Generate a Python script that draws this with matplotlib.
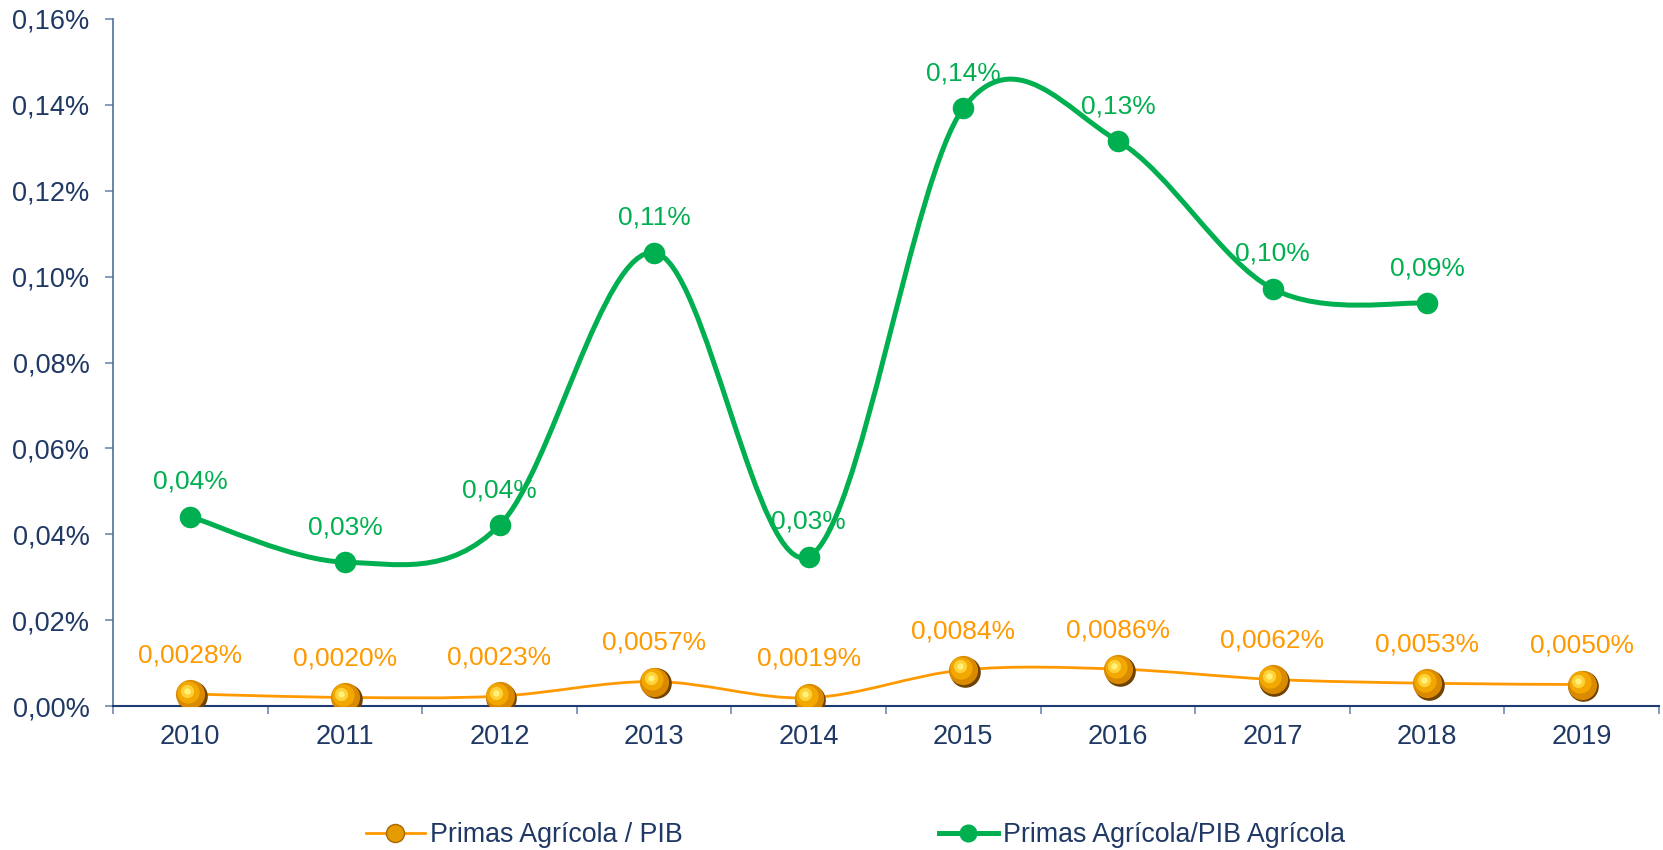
import matplotlib
matplotlib.use("Agg")
import matplotlib.pyplot as plt
import matplotlib.transforms as mtransforms
from matplotlib.path import Path
from matplotlib.patches import PathPatch
from matplotlib.lines import Line2D
from matplotlib.ticker import FuncFormatter, FixedLocator
import numpy as np

plt.rcParams['font.family'] = ['Liberation Sans', 'DejaVu Sans']

years = ["2010", "2011", "2012", "2013", "2014", "2015", "2016", "2017", "2018", "2019"]
primas_pib = [0.0028, 0.0020, 0.0023, 0.0057, 0.0019, 0.0084, 0.0086, 0.0062, 0.0053, 0.0050]
primas_pib_agri = [0.0441, 0.0335, 0.0421, 0.1056, 0.0348, 0.1392, 0.1316, 0.0972, 0.0938]
label_pib = ["0,0028%", "0,0020%", "0,0023%", "0,0057%", "0,0019%", "0,0084%", "0,0086%", "0,0062%", "0,0053%", "0,0050%"]
label_agri = ["0,04%", "0,03%", "0,04%", "0,11%", "0,03%", "0,14%", "0,13%", "0,10%", "0,09%"]
series_names = ["Primas Agrícola / PIB", "Primas Agrícola/PIB Agrícola"]

ORANGE = "#FF9900"
GREEN = "#00B050"
NAVY = "#1F3864"

fig = plt.figure(figsize=(16.63, 8.5), dpi=100)
ax = fig.add_axes([113/1663, 1-706/850, (1659-113)/1663, (706-19)/850])


def smooth_path(xs, ys):
    pts = np.column_stack([xs, ys]).astype(float)
    n = len(pts)
    verts = [pts[0]]
    codes = [Path.MOVETO]
    for i in range(n - 1):
        p0 = pts[i - 1] if i > 0 else pts[i]
        p1 = pts[i]
        p2 = pts[i + 1]
        p3 = pts[i + 2] if i + 2 < n else pts[i + 1]
        c1 = p1 + (p2 - p0) / 6.0
        c2 = p2 - (p3 - p1) / 6.0
        verts += [c1, c2, p2]
        codes += [Path.CURVE4] * 3
    return Path(verts, codes)


x_pib = np.arange(len(primas_pib))
x_agri = np.arange(len(primas_pib_agri))

# smoothed lines
ax.add_patch(PathPatch(smooth_path(x_pib, primas_pib), fill=False, edgecolor=ORANGE, lw=2.0, zorder=2))
ax.add_patch(PathPatch(smooth_path(x_agri, primas_pib_agri), fill=False, edgecolor=GREEN, lw=3.6, zorder=3,
                       capstyle='round'))

# green markers
ax.plot(x_agri, primas_pib_agri, linestyle='none', marker='o', markersize=14.5, color=GREEN, zorder=4)

# orange 3D-ish ball markers
off_dark = mtransforms.offset_copy(ax.transData, fig=fig, x=1.2, y=-1.2, units='points')
off_hi = mtransforms.offset_copy(ax.transData, fig=fig, x=-1.5, y=1.5, units='points')
off_hi2 = mtransforms.offset_copy(ax.transData, fig=fig, x=-2.5, y=2.5, units='points')
ax.plot(x_pib, primas_pib, linestyle='none', marker='o', markersize=21, color="#6E4200", zorder=5, transform=off_dark)
ax.plot(x_pib, primas_pib, linestyle='none', marker='o', markersize=20, color="#D98A00", zorder=6)
ax.plot(x_pib, primas_pib, linestyle='none', marker='o', markersize=15, color="#F2A800", zorder=7, transform=off_hi)
ax.plot(x_pib, primas_pib, linestyle='none', marker='o', markersize=8.5, color="#FFD23A", zorder=8, transform=off_hi2)
ax.plot(x_pib, primas_pib, linestyle='none', marker='o', markersize=3.5, color="#FFF27A", zorder=9, transform=off_hi2)

# data labels
for xi, yi, t in zip(x_pib, primas_pib, label_pib):
    ax.annotate(t, (xi, yi), xytext=(0, 28), textcoords='offset points', ha='center', va='center',
                fontsize=19, color=ORANGE, zorder=10)
for xi, yi, t in zip(x_agri, primas_pib_agri, label_agri):
    ax.annotate(t, (xi, yi), xytext=(0, 25), textcoords='offset points', ha='center', va='center',
                fontsize=19, color=GREEN, zorder=10)

# axes styling
ax.set_xlim(-0.5, len(years) - 0.5)
ax.set_ylim(0, 0.16)
ax.yaxis.set_major_locator(FixedLocator(np.arange(0, 0.1601, 0.02)))
ax.yaxis.set_major_formatter(FuncFormatter(lambda v, p: f"{v:.2f}%".replace('.', ',')))
ax.xaxis.set_major_locator(FixedLocator(np.arange(-0.5, len(years), 1.0)))
ax.xaxis.set_major_formatter(FuncFormatter(lambda v, p: ""))
ax.xaxis.set_minor_locator(FixedLocator(np.arange(len(years))))
ax.xaxis.set_minor_formatter(FuncFormatter(lambda v, p: years[int(round(v))] if 0 <= round(v) < len(years) else ""))

for s in ['top', 'right']:
    ax.spines[s].set_visible(False)
ax.spines['left'].set_color("#4F6F96")
ax.spines['left'].set_linewidth(1.2)
ax.spines['bottom'].set_color("#1F3B73")
ax.spines['bottom'].set_linewidth(1.5)

ax.tick_params(axis='y', direction='out', length=6, width=1.2, color="#6E8AAE", labelsize=19.5,
               labelcolor=NAVY, pad=11)
ax.tick_params(axis='x', which='major', direction='out', length=6, width=1.2, color="#6E8AAE")
ax.tick_params(axis='x', which='minor', length=0, labelsize=19.5, labelcolor=NAVY, pad=13)

# legends
h1 = Line2D([0], [0], color=ORANGE, lw=2.0, marker='o', markersize=13, markerfacecolor="#E59A00",
            markeredgecolor="#A86800")
h2 = Line2D([0], [0], color=GREEN, lw=3.6, marker='o', markersize=12, markerfacecolor=GREEN,
            markeredgecolor=GREEN)
fig.legend(handles=[h1], labels=[series_names[0]], loc='center left', bbox_to_anchor=(366/1663, 1-835/850),
           frameon=False, borderpad=0, borderaxespad=0, handlelength=2.2, handletextpad=0.2,
           prop={'size': 19.3}, labelcolor=NAVY)
fig.legend(handles=[h2], labels=[series_names[1]], loc='center left', bbox_to_anchor=(939/1663, 1-835/850),
           frameon=False, borderpad=0, borderaxespad=0, handlelength=2.2, handletextpad=0.2,
           prop={'size': 19.3}, labelcolor=NAVY)

fig.savefig("out.png", dpi=100)
